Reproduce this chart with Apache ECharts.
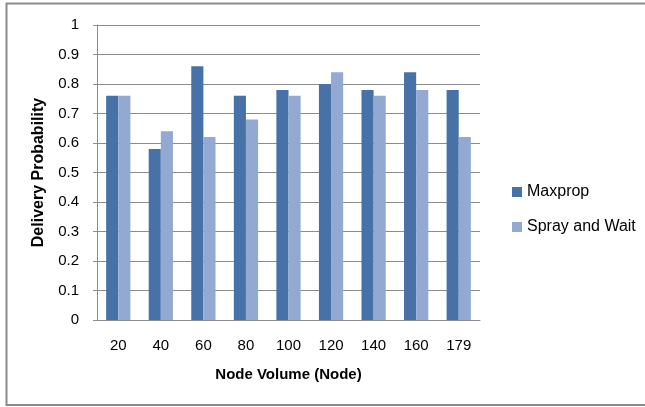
<!DOCTYPE html>
<html>
<head>
<meta charset="utf-8">
<script src="https://cdn.jsdelivr.net/npm/echarts@6/dist/echarts.min.js"></script>
<style>
html,body{margin:0;padding:0;background:#fff;}
#chart{width:645px;height:407px;}
</style>
</head>
<body>
<div id="chart"></div>
<script>
const categories = ['20','40','60','80','100','120','140','160','179'];
const maxprop = [0.76, 0.58, 0.86, 0.76, 0.78, 0.80, 0.78, 0.84, 0.78];
const sprayAndWait = [0.76, 0.64, 0.62, 0.68, 0.76, 0.84, 0.76, 0.78, 0.62];
const yTicks = [0, 0.1, 0.2, 0.3, 0.4, 0.5, 0.6, 0.7, 0.8, 0.9, 1];

const FONT = 'Liberation Sans';
const chart = echarts.init(document.getElementById('chart'), null, {renderer:'canvas'});
chart.setOption({
  animation: false,
  backgroundColor: '#fff',
  graphic: [{
    type: 'rect',
    shape: {x: 6.5, y: 3.5, width: 650, height: 401.5},
    style: {fill: 'none', stroke: '#8a8a8a', lineWidth: 2},
    silent: true
  }],
  grid: {left: 97, right: 165, top: 25, bottom: 87},
  legend: {
    orient: 'vertical',
    left: 507,
    top: 179,
    itemWidth: 10,
    itemHeight: 10,
    itemGap: 19,
    icon: 'rect',
    textStyle: {fontFamily: FONT, fontSize: 16, color: '#000'},
    data: ['Maxprop', 'Spray and Wait']
  },
  xAxis: {
    type: 'category',
    data: categories,
    name: 'Node Volume (Node)',
    nameLocation: 'middle',
    nameGap: 47,
    nameTextStyle: {fontFamily: FONT, fontSize: 15, fontWeight: 'bold', color: '#000'},
    axisLine: {lineStyle: {color: '#8c8c8c', width: 1}},
    axisTick: {show: false},
    axisLabel: {fontFamily: FONT, fontSize: 15, color: '#000', margin: 18}
  },
  yAxis: {
    type: 'value',
    min: 0, max: 1, interval: 0.1,
    name: 'Delivery Probability',
    nameLocation: 'middle',
    nameGap: 50,
    nameTextStyle: {fontFamily: FONT, fontSize: 16, fontWeight: 'bold', color: '#000'},
    axisLine: {show: true, lineStyle: {color: '#8c8c8c', width: 1}},
    axisTick: {show: true, length: 4, lineStyle: {color: '#8c8c8c'}},
    splitLine: {lineStyle: {color: '#8c8c8c', width: 1}},
    axisLabel: {fontFamily: FONT, fontSize: 15, color: '#000', margin: 18,
      formatter: function(v){ const t = yTicks.find(x => Math.abs(x - v) < 1e-9); return t === undefined ? '' : String(t); }}
  },
  series: [
    {name: 'Maxprop', type: 'bar', data: maxprop, barGap: '0%', barCategoryGap: '43%',
     itemStyle: {color: '#4672A8'}},
    {name: 'Spray and Wait', type: 'bar', data: sprayAndWait, barGap: '0%', barCategoryGap: '43%',
     itemStyle: {color: '#94A9D1'}}
  ]
});
</script>
</body>
</html>
